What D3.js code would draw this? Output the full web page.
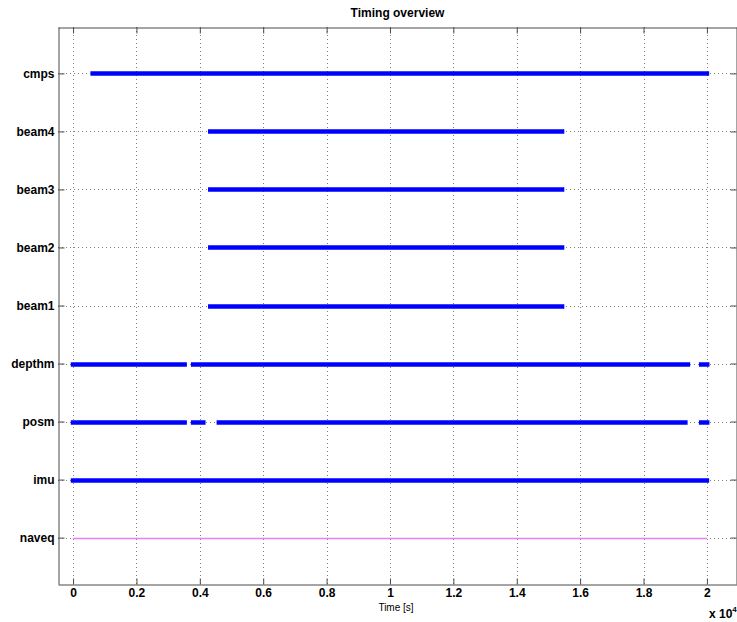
<!DOCTYPE html>
<html>
<head>
<meta charset="utf-8">
<script src="https://cdn.jsdelivr.net/npm/d3@7"></script>
<style>
  html, body { margin: 0; padding: 0; background: #fff; }
  svg { display: block; }
  text { font-family: "Liberation Sans", Arial, Helvetica, sans-serif; }
</style>
</head>
<body>
<svg id="chart" width="737" height="622"></svg>
<script>
// Sensor streams, bottom to top
const sensors = ["naveq", "imu", "posm", "depthm", "beam1", "beam2", "beam3", "beam4", "cmps"];

// Recorded time spans [start, end] in seconds for each stream
const naveqSpans  = [[0, 20000]];
const imuSpans    = [[0, 20000]];
const posmSpans   = [[0, 3520], [3790, 4110], [4600, 19320], [19820, 20010]];
const depthmSpans = [[0, 3520], [3790, 19400], [19820, 20010]];
const beam1Spans  = [[4330, 15430]];
const beam2Spans  = [[4330, 15430]];
const beam3Spans  = [[4330, 15430]];
const beam4Spans  = [[4330, 15430]];
const cmpsSpans   = [[620, 20000]];

const spans = {
  naveq: naveqSpans, imu: imuSpans, posm: posmSpans, depthm: depthmSpans,
  beam1: beam1Spans, beam2: beam2Spans, beam3: beam3Spans, beam4: beam4Spans,
  cmps: cmpsSpans
};

// Time axis ticks (scaled by 10^4 in the labels)
const xTicks = [0, 2000, 4000, 6000, 8000, 10000, 12000, 14000, 16000, 18000, 20000];
const xTickLabels = ["0", "0.2", "0.4", "0.6", "0.8", "1", "1.2", "1.4", "1.6", "1.8", "2"];

const svg = d3.select("#chart");
const plotL = 58, plotR = 737, plotT = 27, plotB = 584;

const x = d3.scaleLinear().domain([-475, 20950]).range([plotL, plotR]);
const y = d3.scaleLinear().domain([0.2, 9.8]).range([plotB, plotT]);
const yPos = name => y(sensors.indexOf(name) + 1);

// Dotted grid
const grid = svg.append("g").attr("stroke", "#808080").attr("stroke-width", 1)
  .attr("stroke-dasharray", "1,3");
grid.selectAll("line.v").data(xTicks).join("line").attr("class", "v")
  .attr("x1", d => Math.round(x(d)) + 0.5).attr("x2", d => Math.round(x(d)) + 0.5)
  .attr("y1", plotT).attr("y2", plotB);
grid.selectAll("line.h").data(sensors).join("line").attr("class", "h")
  .attr("y1", d => Math.round(yPos(d)) + 0.5).attr("y2", d => Math.round(yPos(d)) + 0.5)
  .attr("x1", plotL).attr("x2", plotR);

// Time spans per stream
const marks = svg.append("g");
sensors.forEach(name => {
  const isNav = name === "naveq";
  marks.append("g").selectAll("line").data(spans[name]).join("line")
    .attr("x1", d => x(d[0])).attr("x2", d => x(d[1]))
    .attr("y1", Math.round(yPos(name)) + 0.5).attr("y2", Math.round(yPos(name)) + 0.5)
    .attr("stroke", isNav ? "#f07cf0" : "#0000ff")
    .attr("stroke-width", isNav ? 1.5 : 4.5)
    .attr("stroke-linecap", isNav ? "butt" : "square");
});

// Axes: ticks point inward on all four sides
const xAxisB = d3.axisBottom(x).tickValues(xTicks).tickSizeInner(-6).tickSizeOuter(0)
  .tickPadding(10).tickFormat((d, i) => xTickLabels[i]);
const gB = svg.append("g").attr("transform", `translate(0,${plotB + 0.5})`).call(xAxisB);
const xAxisT = d3.axisTop(x).tickValues(xTicks).tickSizeInner(-6).tickSizeOuter(0).tickFormat("");
const gT = svg.append("g").attr("transform", `translate(0,${plotT + 0.5})`).call(xAxisT);

const yAxisL = d3.axisLeft(y).tickValues(d3.range(1, sensors.length + 1))
  .tickSizeInner(-6).tickSizeOuter(0).tickPadding(10).tickFormat(d => sensors[d - 1]);
const gL = svg.append("g").attr("transform", `translate(${plotL + 0.5},0)`).call(yAxisL);
const yAxisR = d3.axisRight(y).tickValues(d3.range(1, sensors.length + 1))
  .tickSizeInner(-6).tickSizeOuter(0).tickFormat("");
const gR = svg.append("g").attr("transform", `translate(${plotR - 0.5},0)`).call(yAxisR);

[gB, gT, gL, gR].forEach(g => {
  g.select(".domain").attr("stroke", "#4a4a4a");
  g.selectAll(".tick line").attr("stroke", "#4a4a4a");
  g.selectAll(".tick text").attr("fill", "#000").attr("font-size", 12)
    .attr("font-weight", "bold");
});
gB.selectAll(".tick text").attr("dy", "0.71em").attr("y", 4);
gL.selectAll(".tick text").attr("x", -4);

// Title and labels
svg.append("text").attr("x", (plotL + plotR) / 2).attr("y", 17)
  .attr("text-anchor", "middle").attr("font-size", 12).attr("font-weight", "bold")
  .text("Timing overview");
svg.append("text").attr("x", 396).attr("y", 611)
  .attr("text-anchor", "middle").attr("font-size", 10).text("Time [s]");
const expo = svg.append("text").attr("x", 709).attr("y", 618)
  .attr("font-size", 12).attr("font-weight", "bold");
expo.append("tspan").text("x 10");
expo.append("tspan").attr("font-size", 8).attr("dy", -6).text("4");
</script>
</body>
</html>
